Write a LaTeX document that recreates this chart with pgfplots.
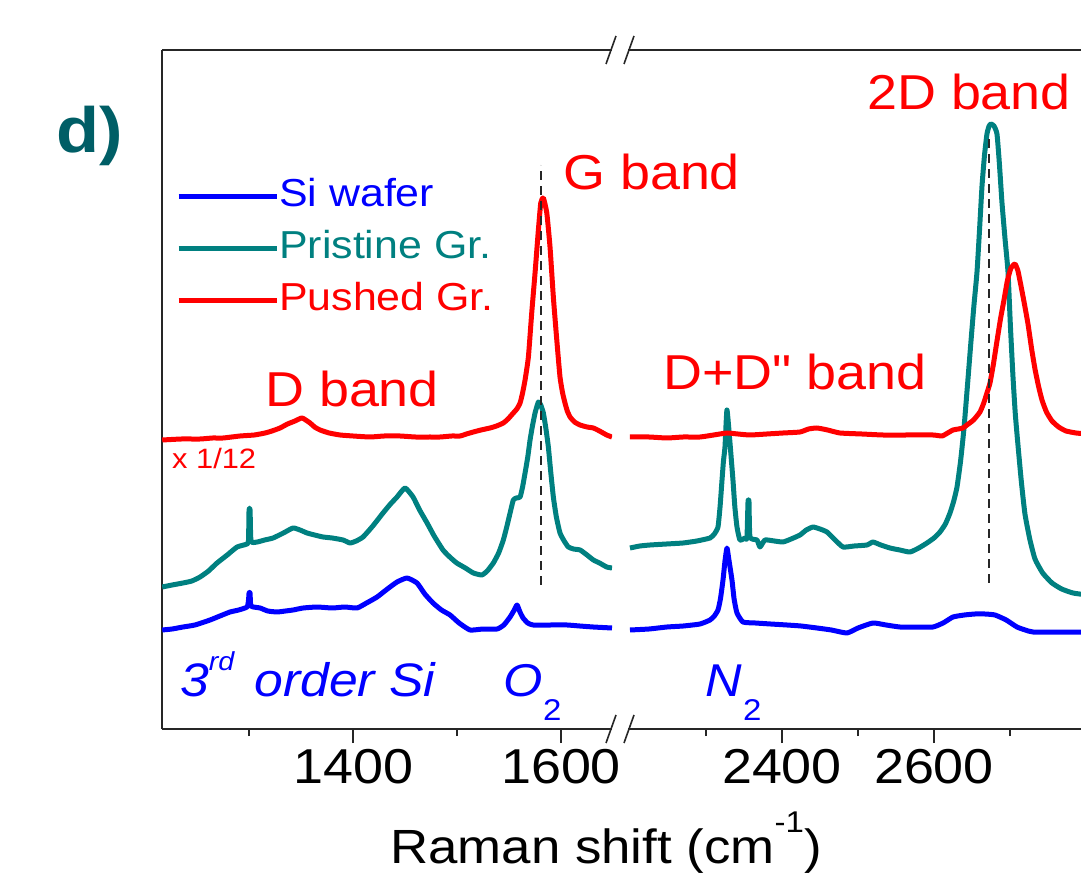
\documentclass[border=0pt]{standalone}
\usepackage{fontspec}
\setmainfont{Liberation Sans}[FakeStretch=1.1, Ligatures=TeXOff]
\usepackage{pgfplots}
\pgfplotsset{compat=1.18}
\definecolor{siblue}{RGB}{0,0,255}
\definecolor{prteal}{RGB}{0,128,128}
\definecolor{pured}{RGB}{255,0,0}
\definecolor{panel}{RGB}{0,94,102}
\newcommand{\fs}[1]{\fontsize{#1}{#1}\selectfont}

% y values are in "pixels above the bottom frame" (arbitrary intensity units)
\pgfplotsset{
  ramanax/.style={
    scale only axis, height=679pt, ymin=0, ymax=679, ytick=\empty,
    axis x line*=box, tick align=outside, xtick pos=left,
    axis line style={-, line width=1.8pt, black!85},
    major tick length=14pt, minor tick length=7pt,
    tick style={line width=1.6pt, black!85},
    xticklabel style={font=\fs{49}, yshift=-3pt},
    /pgf/number format/assume math mode=true,
  },
  every axis plot/.append style={line width=5pt, line join=round, smooth, tension=0.3},
}

\begin{document}
\begin{tikzpicture}[x=1pt,y=1pt]
\useasboundingbox (0,0) rectangle (1081,873);

% ---------- left segment ----------
\begin{axis}[ramanax, at={(162pt,144pt)}, anchor=south west, width=450pt,
    xmin=1216.3, xmax=1649, axis y line*=left,
    xtick={1400,1600}, xticklabels={1400,1600}, minor xtick={1300,1500},
    legend style={at={(0.031,0.811)}, anchor=north west, draw=none, fill=none,
      inner sep=0pt, row sep=16pt, font=\fs{39},
      nodes={inner sep=0pt, text height=28pt, text depth=8pt}},
    legend cell align=left,
    /tikz/every even column/.append style={column sep=10pt},
    legend image code/.code={\draw[#1, line width=5pt, sharp plot] (0pt,0pt) -- (98pt,0pt);},
]
\addplot[siblue] coordinates {
 (1216.5,99) (1226,100) (1236.5,102) (1248,104) (1262.5,109) (1272,113)
 (1281.7,117) (1290,119) (1298.1,122) (1299.5,129) (1300.0,136) (1301.0,136)
 (1301.9,123) (1310.6,121) (1318,118) (1326.9,117) (1335,118) (1342.3,119)
 (1352,121) (1365.4,122) (1380,121) (1392,122) (1403.8,121) (1413,126)
 (1423.1,132) (1433,140) (1442.3,147) (1451.9,151) (1461.5,146) (1469,135)
 (1476.9,126) (1485,119) (1493.3,114) (1502,106) (1512.5,99) (1525,100)
 (1538.5,100) (1545,104) (1551.0,112) (1555,119) (1557.7,124) (1560.5,117)
 (1563.5,111) (1568,106) (1573.1,104) (1590,104) (1605.8,104) (1618,103)
 (1631.0,102) (1649.0,101)
};
\addlegendentry{\textcolor{siblue}{Si wafer}}
\addplot[prteal] coordinates {
 (1216.5,142) (1226,144) (1236.5,146) (1245,148) (1252.9,152) (1261,158)
 (1269.2,166) (1279,174) (1288.5,182) (1298.1,185) (1299.5,189) (1300.0,219)
 (1301.0,219) (1301.9,188) (1307.7,187) (1315,189) (1323.1,191) (1333,196)
 (1342.3,201) (1349,199) (1355.8,196) (1363,194) (1371.2,192) (1380,191)
 (1390.4,189) (1397.1,186) (1403,188) (1409.6,192) (1419,203) (1428.8,216)
 (1436,225) (1442.3,232) (1450.0,241) (1457.7,232) (1464,219) (1471.2,206)
 (1478,193) (1486.5,179) (1493,172) (1499.7,166) (1508,161) (1515.7,156)
 (1523.8,154) (1529,158) (1534.9,166) (1540,176) (1544.5,189) (1548,203)
 (1551.0,216) (1554.1,229) (1557,231) (1560.6,232) (1563,242) (1565.4,256)
 (1568,272) (1570.2,289) (1572.5,303) (1575.0,316) (1578.2,327) (1580.5,324)
 (1583.0,316) (1585.5,300) (1587.8,282) (1590,258) (1592.6,232) (1595.5,212)
 (1599.0,196) (1603,188) (1607.0,182) (1612,180) (1618.3,179) (1625,174)
 (1631.1,169) (1637,166) (1643.9,162) (1649.0,161)
};
\addlegendentry{\textcolor{prteal}{Pristine Gr.}}
\addplot[pured] coordinates {
 (1216.5,289) (1235.0,290) (1252.9,290) (1265,291) (1275.0,291) (1291.3,293)
 (1305.0,294) (1315.4,296) (1322,298) (1329.8,301) (1337,305) (1344.2,308)
 (1351.0,311) (1358.7,306) (1363,302) (1368.3,299) (1377,296) (1387.5,294)
 (1400,293) (1416.3,292) (1430,293) (1445.2,293) (1460,292) (1474.0,292)
 (1483.7,292) (1495,293) (1502.9,293) (1509,295) (1515.7,297) (1523,299)
 (1531.7,301) (1538,303) (1544.5,306) (1549,310) (1554.1,316) (1557.5,320)
 (1560.6,326) (1563,336) (1565.4,349) (1568.6,372) (1571.8,416) (1575.0,456)
 (1578.2,499) (1580.5,526) (1583.0,531) (1586.3,516) (1589.4,482) (1592.6,432)
 (1595.9,389) (1599.0,352) (1601.5,336) (1603.8,326) (1606,318) (1608.7,312)
 (1613,307) (1618.3,304) (1625,302) (1631.1,301) (1637,298) (1643.9,294)
 (1649.0,292)
};
\addlegendentry{\textcolor{pured}{Pushed Gr.}}
\addplot[black!85, line width=2pt, sharp plot, dash pattern=on 9pt off 6pt, forget plot]
  coordinates {(1580.8,144) (1580.8,564)};
\end{axis}

% ---------- right segment ----------
\begin{axis}[ramanax, at={(628pt,144pt)}, anchor=south west, width=462pt,
    xmin=2197.4, xmax=2805.3, hide y axis,
    xtick={2400,2600}, xticklabels={2400,2600}, minor xtick={2300,2500,2700},
]
\addplot[siblue] coordinates {
 (2200.0,99) (2225,100) (2248.7,102) (2270,103) (2292.1,105) (2305.3,109)
 (2311,113) (2315.8,119) (2319,130) (2322.4,149) (2325,168) (2327.6,181)
 (2330,170) (2334.2,149) (2337,130) (2340.8,116) (2348.7,107) (2365,106)
 (2385,105) (2406.6,104) (2425,103) (2446.1,101) (2465,99) (2485.5,96)
 (2500,101) (2519.7,106) (2537,104) (2555.3,102) (2577,102) (2598.7,102)
 (2612,106) (2625.0,112) (2640,114) (2653.9,115) (2667,115) (2680.3,114)
 (2695,109) (2709.2,102) (2720,99) (2730.3,97) (2765,97) (2801.3,97)
};
\addplot[prteal] coordinates {
 (2200.0,181) (2213,183) (2226.3,184) (2248,185) (2269.7,186) (2288,188)
 (2305.3,191) (2311,195) (2315.8,202) (2318.5,222) (2321.1,249) (2323,268)
 (2325.0,282) (2327.6,319) (2331.6,286) (2333.5,268) (2335.5,249) (2338,222)
 (2340.8,202) (2344.7,189) (2351.3,191) (2353.9,191) (2355.3,227) (2356.6,227)
 (2357.9,192) (2367.1,189) (2371.1,182) (2377.6,189) (2390,188) (2401.3,187)
 (2412,190) (2423.7,194) (2432,199) (2440.8,202) (2450,200) (2459.2,197)
 (2470,189) (2480.3,182) (2495,183) (2511.8,184) (2519.7,187) (2530,184)
 (2542.1,181) (2555,179) (2568.4,177) (2580,181) (2590.8,186) (2600,191)
 (2607.9,197) (2615,205) (2621.1,216) (2626,228) (2630.3,242) (2635,268)
 (2639.5,301) (2644,343) (2648.7,388) (2652.5,423) (2656.6,457) (2660,500)
 (2663.2,543) (2666.5,574) (2669.7,595) (2672.5,603) (2675.0,605) (2679,603)
 (2682.9,595) (2686,566) (2689.5,526) (2693.5,490) (2697.4,457) (2700.5,404)
 (2703.9,353) (2707,315) (2710.5,284) (2715,247) (2719.7,215) (2726,190)
 (2732.9,170) (2743,156) (2755.3,146) (2768,140) (2782.9,136) (2801.3,134)
};
\addplot[pured] coordinates {
 (2200.0,292) (2225,292) (2248.7,291) (2270,292) (2292.1,292) (2310,294)
 (2327.6,296) (2342,295) (2357.9,294) (2380,295) (2401.3,296) (2423.7,297)
 (2435,300) (2446.1,301) (2460,299) (2476.3,296) (2505,295) (2532.9,294)
 (2565,294) (2598.7,294) (2610.5,293) (2618,296) (2625.0,299) (2632,300)
 (2638.2,301) (2643.4,304) (2652,309) (2660.5,317) (2665.5,326) (2669.7,336)
 (2673.7,346) (2678,364) (2682.9,388) (2687.5,410) (2692.1,429) (2696.5,448)
 (2701.3,461) (2706.6,465) (2710.5,458) (2714.5,443) (2719,425) (2723.7,405)
 (2728.5,380) (2732.9,360) (2737.5,343) (2742.1,329) (2748,317) (2755.3,308)
 (2764,302) (2773.7,298) (2787,296) (2801.3,295)
};
\addplot[black!85, line width=2pt, sharp plot, dash pattern=on 9pt off 6pt]
  coordinates {(2672.4,146) (2672.4,592)};
\end{axis}

% axis break marks
\foreach \yy in {144,823} {
  \draw[line width=1.6pt, black!85] (606,\yy-14) -- (616,\yy+14);
  \draw[line width=1.6pt, black!85] (624,\yy-14) -- (634,\yy+14);
}

% panel label and annotations
\node[anchor=base west, inner sep=0pt, text=panel, font=\fs{64}\bfseries] at (56,720) {d)};
\node[anchor=base west, inner sep=0pt, text=pured, font=\fs{49}] at (563,683) {G band};
\node[anchor=base west, inner sep=0pt, text=pured, font=\fs{49}] at (867,763) {2D band};
\node[anchor=base west, inner sep=0pt, text=pured, font=\fs{49}] at (265,466) {D band};
\node[anchor=base west, inner sep=0pt, text=pured, font=\fs{49}] at (663,483) {D+D" band};
\node[anchor=base west, inner sep=0pt, text=pured, font=\fs{28}] at (172,404) {x 1/12};
\node[anchor=base west, inner sep=0pt, text=siblue, font=\fs{47}\itshape] at (180,176)
  {3\raisebox{26pt}{\fs{26}rd}\hspace{20pt}order Si};
\node[anchor=base west, inner sep=0pt, text=siblue, font=\fs{46}\itshape] at (503,176) {O};
\node[anchor=base west, inner sep=0pt, text=siblue, font=\fs{30}] at (543,153) {2};
\node[anchor=base west, inner sep=0pt, text=siblue, font=\fs{46}\itshape] at (705,176) {N};
\node[anchor=base west, inner sep=0pt, text=siblue, font=\fs{30}] at (743,153) {2};
\node[anchor=base, inner sep=0pt, font=\fs{48}] at (606,10)
  {Raman shift (cm\raisebox{31pt}{\fs{30}-1})};
\end{tikzpicture}
\end{document}
